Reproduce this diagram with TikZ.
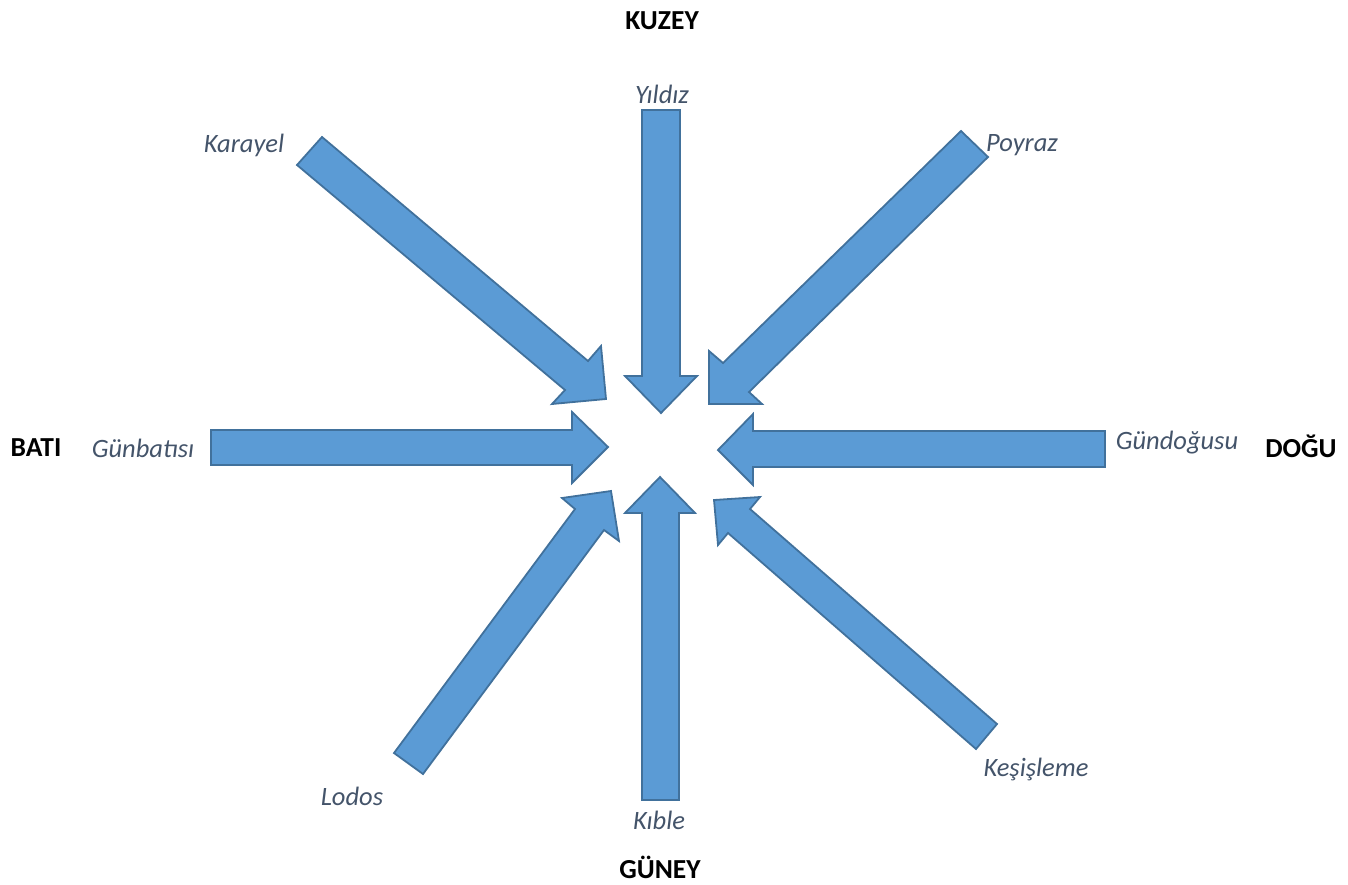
\documentclass[tikz,border=0pt]{standalone}
\usepackage{fontspec}
\setmainfont{Carlito}
\definecolor{afill}{HTML}{5B9BD5}
\definecolor{aline}{HTML}{41719C}
\definecolor{lbl}{HTML}{44546A}
\begin{document}
\begin{tikzpicture}[x=1pt,y=-1pt,
  blockarrow/.style={fill=afill,draw=aline,line width=1.8pt,line join=miter},
  wind/.style={font=\fontsize{26.5}{30}\selectfont\itshape,text=lbl,inner sep=0pt},
  dir/.style={font=\fontsize{27.5}{31}\selectfont\bfseries,text=black,inner sep=0pt}]
\useasboundingbox (0,0) rectangle (1348,884);
% Yildiz (down)
\draw[blockarrow] (642,110) -- (680,110) -- (680,376) -- (697,376) -- (661,413) -- (625,376) -- (642,376) -- cycle;
% Kible (up)
\draw[blockarrow] (642,800) -- (679,800) -- (679,513) -- (695,513) -- (660,477) -- (625,513) -- (642,513) -- cycle;
% Gunbatisi (right)
\draw[blockarrow] (211,430) -- (572,430) -- (572,412) -- (608,447) -- (572,483) -- (572,465) -- (211,465) -- cycle;
% Gundogusu (left)
\draw[blockarrow] (1105,431) -- (753,431) -- (753,414) -- (718,450) -- (753,485) -- (753,467) -- (1105,467) -- cycle;
% Karayel
\draw[blockarrow] (322,137) -- (588,361) -- (601,346) -- (606,399) -- (552,404) -- (565,390) -- (297,165) -- cycle;
% Poyraz
\draw[blockarrow] (961,131) -- (723,363) -- (709,351) -- (709,404) -- (762,404) -- (749,392) -- (988,157) -- cycle;
% Lodos
\draw[blockarrow] (394,753) -- (575,509) -- (562,498) -- (611,491) -- (619,541) -- (604,530) -- (423,774) -- cycle;
% Kesisleme
\draw[blockarrow] (997,724) -- (750,509) -- (760,497) -- (714,500) -- (718,545) -- (728,533) -- (976,749) -- cycle;
% labels
\node[dir] (kuzey) at (662,21) {KUZEY};
\node[dir] (guney) at (660,867) {GÜNEY};
\node[dir] (bati) at (36,448) {BATI};
\node[dir] (dogu) at (1301,446) {DOĞU};
\node[wind] (yildiz) at (662,94) {Yıldız};
\node[wind] (karayel) at (244,145) {Karayel};
\node[wind] (poyraz) at (1022,145) {Poyraz};
\node[wind] (gunbatisi) at (143,448) {Günbatısı};
\node[wind] (gundogusu) at (1177,443) {Gündoğusu};
\node[wind] (lodos) at (352,796) {Lodos};
\node[wind] (kible) at (659,820) {Kıble};
\node[wind] (kesisleme) at (1036,769) {Keşişleme};
\end{tikzpicture}
\end{document}
